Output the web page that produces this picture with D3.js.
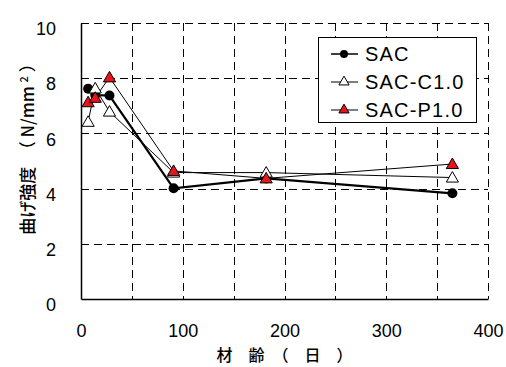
<!DOCTYPE html>
<html><head><meta charset="utf-8">
<script src="https://cdn.jsdelivr.net/npm/d3@7"></script>
<style>
body{margin:0;background:#fff;}
svg{display:block;}
</style></head>
<body><svg id="c" width="506" height="367"></svg>
<script>
const ages = [7, 14, 28, 91, 182, 365];
const sac  = [7.62, 7.39, 7.37, 4.01, 4.37, 3.83];
const sacC = [6.42, 7.63, 6.79, 4.58, 4.58, 4.40];
const sacP = [7.13, 7.29, 8.03, 4.64, 4.37, 4.89];
const seriesNames = ["SAC", "SAC-C1.0", "SAC-P1.0"];
const xTicks = [0, 100, 200, 300, 400];
const yTicks = [0, 2, 4, 6, 8, 10];
const xGrid = [50, 100, 150, 200, 250, 300, 350, 400];
const yGrid = [2, 4, 6, 8, 10];

const svg = d3.select("#c");
const L = 81, R = 488, T = 23, B = 299;
const x = d3.scaleLinear().domain([0, 400]).range([L, R]);
const y = d3.scaleLinear().domain([0, 10]).range([B, T]);

// grid
svg.append("g").selectAll("line").data(xGrid).join("line")
  .attr("x1", d => Math.round(x(d)) + 0.5).attr("x2", d => Math.round(x(d)) + 0.5)
  .attr("y1", T).attr("y2", B)
  .attr("stroke", "#000").attr("stroke-width", 1).attr("stroke-dasharray", "8,5");
svg.append("g").selectAll("line").data(yGrid).join("line")
  .attr("y1", d => Math.round(y(d)) + 0.5).attr("y2", d => Math.round(y(d)) + 0.5)
  .attr("x1", L).attr("x2", R)
  .attr("stroke", "#000").attr("stroke-width", 1).attr("stroke-dasharray", "8,5");

// axes
const xAxis = d3.axisBottom(x).tickValues(xTicks).tickSize(0).tickPadding(25);
const gx = svg.append("g").attr("transform", `translate(0,${B})`).call(xAxis);
gx.select(".domain").attr("stroke", "#000").attr("stroke-width", 1.5);
gx.selectAll("text").attr("font-family", "Liberation Sans, Arial, sans-serif").attr("font-size", 18).attr("fill", "#000");

const yAxis = d3.axisLeft(y).tickValues(yTicks).tickSize(0).tickPadding(25);
const gy = svg.append("g").attr("transform", `translate(${L},0)`).call(yAxis);
gy.select(".domain").attr("stroke", "#000").attr("stroke-width", 1.5);
gy.selectAll("text").attr("font-family", "Liberation Sans, Arial, sans-serif").attr("font-size", 18).attr("fill", "#000").attr("dy", "0.65em");

// axis titles
svg.append("text").attr("x", (L + R) / 2).attr("y", 361).attr("text-anchor", "middle")
  .attr("font-family", "Noto Sans CJK JP, sans-serif").attr("font-size", 16).attr("font-weight", 500).attr("fill", "#000")
  .text("材　齢　（　日　）");

const yt = svg.append("text").attr("transform", "translate(34,145) rotate(-90)").attr("text-anchor", "middle")
  .attr("font-family", "Noto Sans CJK JP, sans-serif").attr("font-size", 17).attr("font-weight", 500).attr("fill", "#000");
yt.append("tspan").text("曲げ強度　（ N/mm ");
yt.append("tspan").attr("font-size", 11).attr("dy", -6).text("2");
yt.append("tspan").attr("dy", 6).text(" ）");

// series
const series = [
  {name: seriesNames[0], vals: sac, w: 2.2, marker: "circle", fill: "#000"},
  {name: seriesNames[1], vals: sacC, w: 1, marker: "tri", fill: "#fff"},
  {name: seriesNames[2], vals: sacP, w: 1, marker: "tri", fill: "#e8161b"}
];
const line = d3.line().x(d => x(d[0])).y(d => y(d[1]));
const tri = d3.symbol().type(d3.symbolTriangle).size(64);

function drawMarker(g, m, fill, cx, cy) {
  if (m === "circle") {
    g.append("circle").attr("cx", cx).attr("cy", cy).attr("r", 5).attr("fill", "#000");
  } else {
    g.append("path").attr("d", tri()).attr("transform", `translate(${cx},${cy + 1})`)
      .attr("fill", fill).attr("stroke", "#000").attr("stroke-width", 1);
  }
}

series.forEach(s => {
  const pts = ages.map((a, i) => [a, s.vals[i]]);
  svg.append("path").attr("d", line(pts)).attr("fill", "none").attr("stroke", "#000").attr("stroke-width", s.w);
});
series.forEach(s => {
  const g = svg.append("g");
  ages.forEach((a, i) => drawMarker(g, s.marker, s.fill, x(a), y(s.vals[i])));
});

// legend
const lg = svg.append("g");
lg.append("rect").attr("x", 318.5).attr("y", 37.5).attr("width", 158).attr("height", 85)
  .attr("fill", "#fff").attr("stroke", "#000").attr("stroke-width", 1);
const rows = [54, 82, 110];
series.forEach((s, i) => {
  lg.append("line").attr("x1", 331).attr("x2", 358).attr("y1", rows[i]).attr("y2", rows[i])
    .attr("stroke", "#000").attr("stroke-width", s.w === 1 ? 1 : 1.5);
  if (s.marker === "circle") {
    lg.append("circle").attr("cx", 344).attr("cy", rows[i]).attr("r", 4).attr("fill", "#000");
  } else {
    lg.append("path").attr("d", d3.symbol().type(d3.symbolTriangle).size(45)()).attr("transform", `translate(344,${rows[i]})`)
      .attr("fill", s.fill).attr("stroke", "#000").attr("stroke-width", 1);
  }
  lg.append("text").attr("x", 365).attr("y", rows[i]).attr("dy", "0.36em")
    .attr("font-family", "Liberation Sans, Arial, sans-serif").attr("font-size", 20).attr("letter-spacing", 1.2)
    .attr("fill", "#000").text(s.name);
});
</script></body></html>
